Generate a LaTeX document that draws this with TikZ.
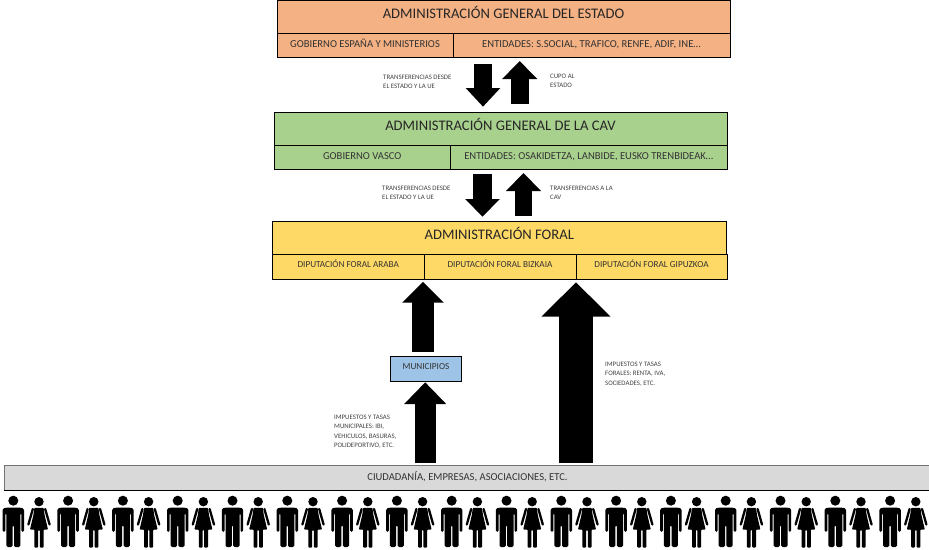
\documentclass[tikz,border=0pt]{standalone}
\usepackage{fontspec}
\setmainfont{Carlito}
\usetikzlibrary{arrows.meta}

\definecolor{estadocolor}{HTML}{F4B183}
\definecolor{cavcolor}{HTML}{A9D18E}
\definecolor{foralcolor}{HTML}{FFD966}
\definecolor{municolor}{HTML}{9DC3E6}

\tikzset{
  titlebox/.style={draw=black, line width=0.9pt, inner sep=0pt, text=black!85, text height=10pt, text depth=6pt, font=\fontsize{14.6}{16}\selectfont},
  cellbox/.style={draw=black, line width=0.9pt, inner sep=0pt, text=black!80, text height=8pt, text depth=4pt, font=\fontsize{10.6}{12}\selectfont},
  minibox/.style={cellbox, text depth=6pt, font=\fontsize{9.2}{11}\selectfont},
  smalltext/.style={anchor=north west, align=left, inner sep=0pt, text=black!75, font=\fontsize{6.8}{9.3}\selectfont},
  bigarrow/.style n args={3}{line width=#1, -{Triangle[length=#2, width=#3]}, black},
  man/.pic={
    \fill (0,0.7) circle (5);
    \fill[rounded corners=1.5] (-8,7.7) -- (8,7.7) -- (10.7,8.5) -- (10.7,32) -- (8,32) -- (8,13) -- (7,13)
      -- (7,47) -- (0.7,47) -- (0.7,25) -- (-0.7,25) -- (-0.7,47) -- (-7,47) -- (-7,13) -- (-8,13)
      -- (-8,32) -- (-10.7,32) -- (-10.7,8.5) -- cycle;
  },
  woman/.pic={
    \fill (0,1.7) circle (4.7);
    \fill[rounded corners=0.8] (-4.6,7.8) -- (4.6,7.8) -- (5.6,15) -- (9,29.5) -- (4.6,29.5) -- (4.6,47.5)
      -- (0.8,47.5) -- (0.8,30) -- (-0.8,30) -- (-0.8,47.5) -- (-4.6,47.5) -- (-4.6,29.5) -- (-9,29.5) -- (-5.6,15) -- cycle;
    \draw[line width=2.3, line cap=round] (6.2,9) -- (10.6,24.5);
    \draw[line width=2.3, line cap=round] (-6.2,9) -- (-10.6,24.5);
  }
}

\begin{document}
\begin{tikzpicture}[x=1pt, y=-1pt]
  \useasboundingbox (0,0) rectangle (929,549);

  % Administracion del estado
  \node[titlebox, fill=estadocolor, minimum width=453pt, minimum height=33pt] (estado) at (503.5,16.5) {ADMINISTRACIÓN GENERAL DEL ESTADO};
  \node[cellbox, fill=estadocolor, minimum width=176pt, minimum height=24pt] (gobierno) at (365,45) {GOBIERNO ESPAÑA Y MINISTERIOS};
  \node[cellbox, fill=estadocolor, minimum width=277pt, minimum height=24pt] (entidades) at (591.5,45) {ENTIDADES: S.SOCIAL, TRAFICO, RENFE, ADIF, INE\ldots};

  % Administracion de la CAV
  \node[titlebox, fill=cavcolor, minimum width=453pt, minimum height=33pt] (cav) at (500.5,128.5) {ADMINISTRACIÓN GENERAL DE LA CAV};
  \node[cellbox, fill=cavcolor, minimum width=176.5pt, minimum height=24pt] (vasco) at (362.25,157) {GOBIERNO VASCO};
  \node[cellbox, fill=cavcolor, minimum width=276.5pt, minimum height=24pt] (entidadescav) at (588.75,157) {ENTIDADES: OSAKIDETZA, LANBIDE, EUSKO TRENBIDEAK\ldots};

  % Administracion foral
  \node[titlebox, fill=foralcolor, minimum width=453.5pt, minimum height=33.5pt] (foral) at (499.25,237.75) {ADMINISTRACIÓN FORAL};
  \node[minibox, fill=foralcolor, minimum width=151.5pt, minimum height=24.5pt] (araba) at (348.25,266.75) {DIPUTACIÓN FORAL ARABA};
  \node[minibox, fill=foralcolor, minimum width=152pt, minimum height=24.5pt] (bizkaia) at (500,266.75) {DIPUTACIÓN FORAL BIZKAIA};
  \node[minibox, fill=foralcolor, minimum width=151pt, minimum height=24.5pt] (gipuzkoa) at (651.5,266.75) {DIPUTACIÓN FORAL GIPUZKOA};

  % Municipios y ciudadania
  \node[minibox, fill=municolor, minimum width=71.5pt, minimum height=25pt] (municipios) at (426,368.75) {MUNICIPIOS};
  \node[cellbox, draw=black!55, text depth=3pt, fill=black!15, minimum width=926pt, minimum height=25pt] (ciudadania) at (467.5,477.5) {CIUDADANÍA, EMPRESAS, ASOCIACIONES, ETC.};
  \draw[line width=0.9pt] (ciudadania.south west) -- (ciudadania.south east);

  % Puntos de las flechas
  \coordinate (bajaAtail) at (483,64);
  \coordinate (bajaAtip) at (483,106.7);
  \coordinate (subeAtail) at (519.7,104);
  \coordinate (subeAtip) at (519.7,61);
  \coordinate (bajaBtail) at (482.5,174.3);
  \coordinate (bajaBtip) at (482.5,216.7);
  \coordinate (subeBtail) at (523.5,216);
  \coordinate (subeBtip) at (523.5,173);
  \coordinate (muniTail) at (423,351.7);
  \coordinate (muniTip) at (423,281.7);
  \coordinate (ciudTail) at (425.2,463);
  \coordinate (ciudTip) at (425.2,382.3);
  \coordinate (foralTail) at (576,463);
  \coordinate (foralTip) at (576,282.3);

  % Flechas
  \draw[bigarrow={18pt}{18.7pt}{33.5pt}] (bajaAtail) -- (bajaAtip);
  \draw[bigarrow={18pt}{18pt}{34pt}] (subeAtail) -- (subeAtip);
  \draw[bigarrow={18.4pt}{17.7pt}{33.6pt}] (bajaBtail) -- (bajaBtip);
  \draw[bigarrow={17.6pt}{18pt}{34pt}] (subeBtail) -- (subeBtip);
  \draw[bigarrow={21.4pt}{21pt}{40.6pt}] (muniTail) -- (muniTip);
  \draw[bigarrow={21pt}{21.7pt}{40.7pt}] (ciudTail) -- (ciudTip);
  \draw[bigarrow={34pt}{34.4pt}{67.3pt}] (foralTail) -- (foralTip);

  % Textos de las flechas
  \node[smalltext] (textoA) at (383,75) {TRANSFERENCIAS DESDE\\EL ESTADO Y LA UE};
  \node[smalltext] (textoB) at (550,74) {CUPO AL\\ESTADO};
  \node[smalltext] (textoC) at (382,186) {TRANSFERENCIAS DESDE\\EL ESTADO Y LA UE};
  \node[smalltext] (textoD) at (550,186) {TRANSFERENCIAS A LA\\CAV};
  \node[smalltext] (textoE) at (334,415) {IMPUESTOS Y TASAS\\MUNICIPALES: IBI,\\VEHICULOS, BASURAS,\\POLIDEPORTIVO, ETC.};
  \node[smalltext] (textoF) at (605,362) {IMPUESTOS Y TASAS\\FORALES: RENTA, IVA,\\SOCIEDADES, ETC.};

  % Personas
  \foreach \i in {0,1,...,16} {
    \pic at ({13.3+54.8*\i},500) {man};
    \pic at ({39+54.8*\i},500) {woman};
  }
\end{tikzpicture}
\end{document}
